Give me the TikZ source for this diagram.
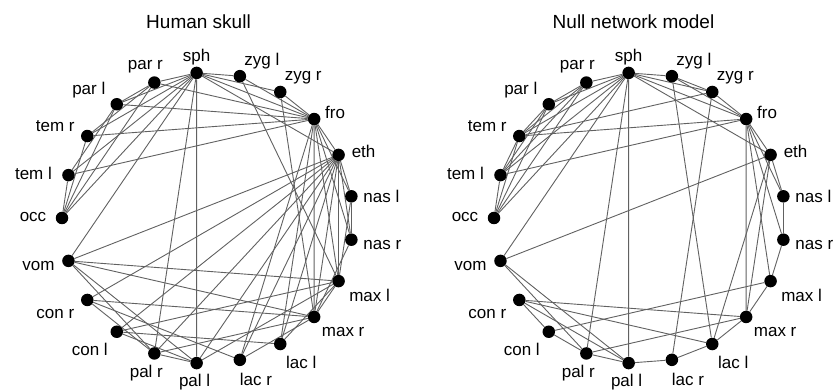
\documentclass[tikz,border=0pt]{standalone}
\usepackage{fontspec}
\setmainfont{Liberation Sans}
\usetikzlibrary{backgrounds}
\begin{document}
\begin{tikzpicture}[x=1pt,y=1pt]
\tikzset{
  bone/.style={circle,fill=black,inner sep=0pt,minimum size=12.5pt},
  lbl/.style={font=\fontsize{17}{17}\selectfont,inner sep=0pt},
  ttl/.style={font=\fontsize{19}{19}\selectfont,inner sep=0pt},
  link/.style={draw=black!62,line width=0.9pt}
}
\useasboundingbox (0,0) rectangle (837,390);
\node[ttl] (tL) at (198.5,368) {Human skull};
\node[ttl] (tR) at (633.5,368) {Null network model};
\foreach \g/\cx in {L/207.5,R/639.5}{
  \foreach \n/\t/\dx/\dy [count=\k from 0] in {
    occ/occ/-29/1, teml/tem l/-35/2, temr/tem r/-32/10, parl/par l/-28/14,
    parr/par r/-9/16, sph/sph/0/16, zygl/zyg l/22/15, zygr/zyg r/23/14,
    fro/fro/21/7, eth/eth/25/3, nasl/nas l/30/0, nasr/nas r/31/-5,
    maxl/max l/31/-14, maxr/max r/29/-15, lacl/lac l/21/-18, lacr/lac r/16/-20,
    pall/pal l/-2/-19, palr/pal r/-8/-20, conl/con l/-27/-18, conr/con r/-32/-14,
    vom/vom/-30/-5}{
    \pgfmathsetmacro\ang{180-\k*360/21}
    \node[bone] (\g\n) at ({\cx+145.5*cos(\ang)},{172+145.5*sin(\ang)}) {};
    \node[lbl] (\g\n t) at ([shift={(\dx,\dy)}]\g\n.center) {\t};
  }
}
\begin{scope}[on background layer]
\foreach \a/\b in {occ/parl, occ/parr, occ/teml, occ/temr, occ/sph,
 parl/parr, parl/teml, parr/temr, parl/fro, parr/fro, parl/sph, parr/sph,
 teml/sph, temr/sph, teml/fro, temr/fro,
 fro/sph, fro/eth, fro/nasl, fro/nasr, fro/maxl, fro/maxr, fro/lacl, fro/lacr, fro/zygl, fro/zygr,
 sph/eth, sph/vom, sph/zygl, sph/zygr, sph/pall, sph/palr,
 eth/nasl, eth/nasr, eth/maxl, eth/maxr, eth/lacl, eth/lacr, eth/pall, eth/palr, eth/vom, eth/conl, eth/conr,
 nasl/nasr, nasl/maxl, nasr/maxr,
 lacl/maxl, lacr/maxr, lacl/conl, lacr/conr,
 zygl/maxl, zygr/maxr,
 maxl/maxr, maxl/conl, maxr/conr, maxl/vom, maxr/vom, maxl/pall, maxr/palr,
 pall/palr, pall/conl, palr/conr, pall/vom, palr/vom}
  \draw[link] (L\a) -- (L\b);
\foreach \a/\b in {occ/teml, occ/temr, occ/parl, occ/parr, occ/sph,
 teml/temr, teml/parl, teml/parr, teml/sph, teml/fro,
 temr/parl, temr/parr, temr/sph, temr/fro, temr/zygr,
 parl/parr, parl/sph, parr/sph,
 sph/zygl, sph/zygr, sph/fro, sph/eth, sph/pall, sph/palr, sph/vom,
 zygl/zygr, zygl/fro, zygr/fro, zygl/lacl, zygr/lacr,
 fro/eth, fro/maxr, fro/maxl, fro/nasr, fro/nasl,
 eth/vom, eth/lacl, eth/maxr, eth/nasl,
 nasl/nasr, nasr/maxl, maxl/maxr,
 maxl/conl, maxr/conr, maxr/lacl, lacl/lacr, lacr/pall, pall/palr,
 pall/vom, palr/vom, palr/conl, conl/conr, conr/pall, palr/maxr, conr/lacl}
  \draw[link] (R\a) -- (R\b);
\end{scope}
\end{tikzpicture}
\end{document}
